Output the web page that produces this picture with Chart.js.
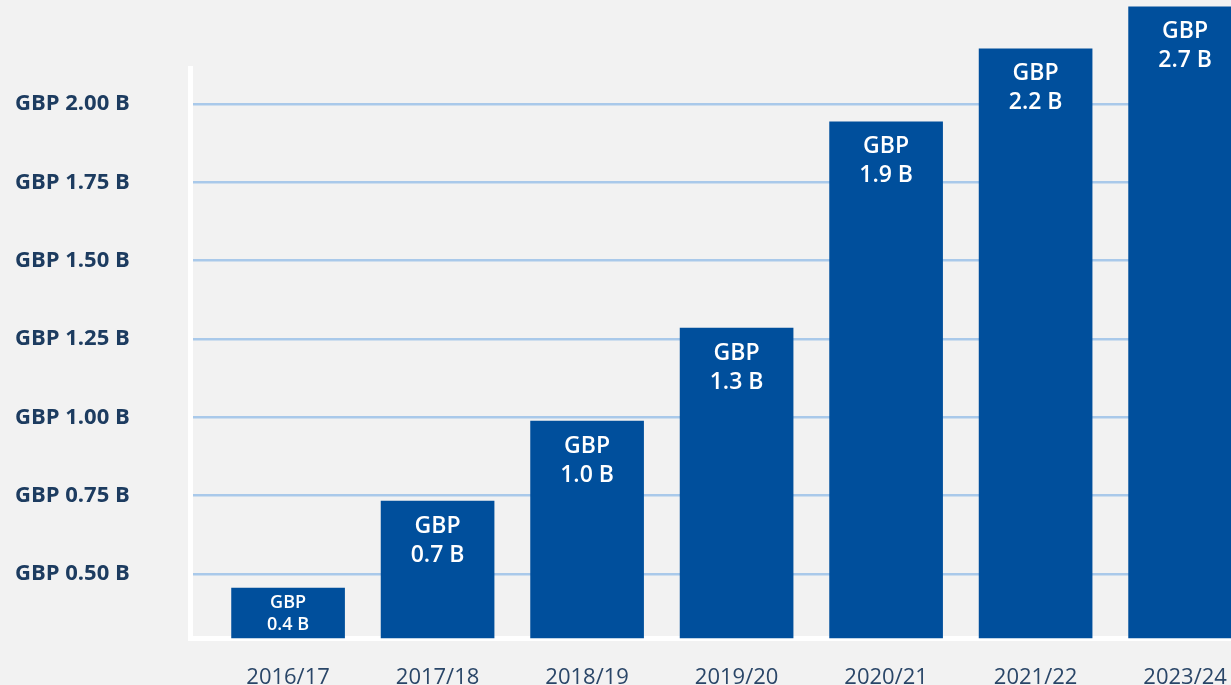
<!DOCTYPE html>
<html>
<head>
<meta charset="utf-8">
<script src="https://cdn.jsdelivr.net/npm/chart.js@4.4.1/dist/chart.umd.min.js"></script>
<style>
  html, body { margin: 0; padding: 0; background: #f2f2f2; overflow: hidden; }
  #wrap { width: 1231px; height: 685px; position: relative; }
</style>
</head>
<body>
<div id="wrap"><canvas id="fundingChart"></canvas></div>
<script>
const years = ['2016/17', '2017/18', '2018/19', '2019/20', '2020/21', '2021/22', '2023/24'];
// bar heights as drawn in the picture (GBP billions)
const barHeights = [0.455, 0.733, 0.988, 1.285, 1.943, 2.176, 2.31];
// figures printed inside the bars
const barLabels = ['0.4 B', '0.7 B', '1.0 B', '1.3 B', '1.9 B', '2.2 B', '2.7 B'];
const yTicks = [0.5, 0.75, 1.0, 1.25, 1.5, 1.75, 2.0];
const yMin = 0.296;
const yMax = 2.115;

const barColor = '#004f9c';
const navy = '#1d3c60';

const barTextPlugin = {
  id: 'barText',
  afterDatasetsDraw(chart) {
    const ctx = chart.ctx;
    const meta = chart.getDatasetMeta(0);
    ctx.save();
    ctx.fillStyle = '#ffffff';
    ctx.textAlign = 'center';
    ctx.textBaseline = 'middle';
    meta.data.forEach((bar, i) => {
      const small = i === 0;
      ctx.font = (small ? '600 18px' : '600 23px') + ' "Open Sans", sans-serif';
      const first = bar.y + (small ? 15 : 25);
      const gap = small ? 22 : 29;
      ctx.fillText('GBP', bar.x, first);
      ctx.fillText(barLabels[i], bar.x, first + gap);
    });
    ctx.restore();
  }
};

const ctx = document.getElementById('fundingChart').getContext('2d');
const fundingChart = new Chart(ctx, {
  type: 'bar',
  data: {
    datasets: [{
      data: barHeights.map((h, i) => ({ x: i, y: h })),
      backgroundColor: barColor,
      borderWidth: 0,
      barThickness: 113,
      base: yMin,
      clip: false
    }]
  },
  options: {
    responsive: true,
    maintainAspectRatio: false,
    animation: false,
    layout: { padding: { left: 15, top: 68, right: 0, bottom: 0 } },
    plugins: {
      legend: { display: false },
      tooltip: { enabled: false }
    },
    scales: {
      x: {
        type: 'linear',
        min: -0.656,
        max: 6.307,
        offset: false,
        grid: { display: false, offset: false },
        border: { display: true, color: '#ffffff', width: 5 },
        ticks: {
          color: '#2a4668',
          font: { family: '"Open Sans", sans-serif', size: 22 },
          padding: 19,
          callback: v => years[v]
        },
        afterBuildTicks: s => { s.ticks = years.map((y, i) => ({ value: i })); },
        afterFit: s => { s.height = 47; s.paddingLeft = 0; s.paddingRight = 0; }
      },
      y: {
        min: yMin,
        max: yMax,
        grid: { color: '#a9c9ea', lineWidth: 2.5, drawTicks: false },
        border: { display: true, color: '#ffffff', width: 5 },
        ticks: {
          color: navy,
          crossAlign: 'far',
          font: { family: '"Open Sans", sans-serif', size: 22, weight: '700' },
          callback: v => 'GBP ' + v.toFixed(2) + ' B'
        },
        afterBuildTicks: s => { s.ticks = yTicks.map(v => ({ value: v })); },
        afterFit: s => { s.width = 175; }
      }
    }
  },
  plugins: [barTextPlugin]
});
</script>
</body>
</html>
